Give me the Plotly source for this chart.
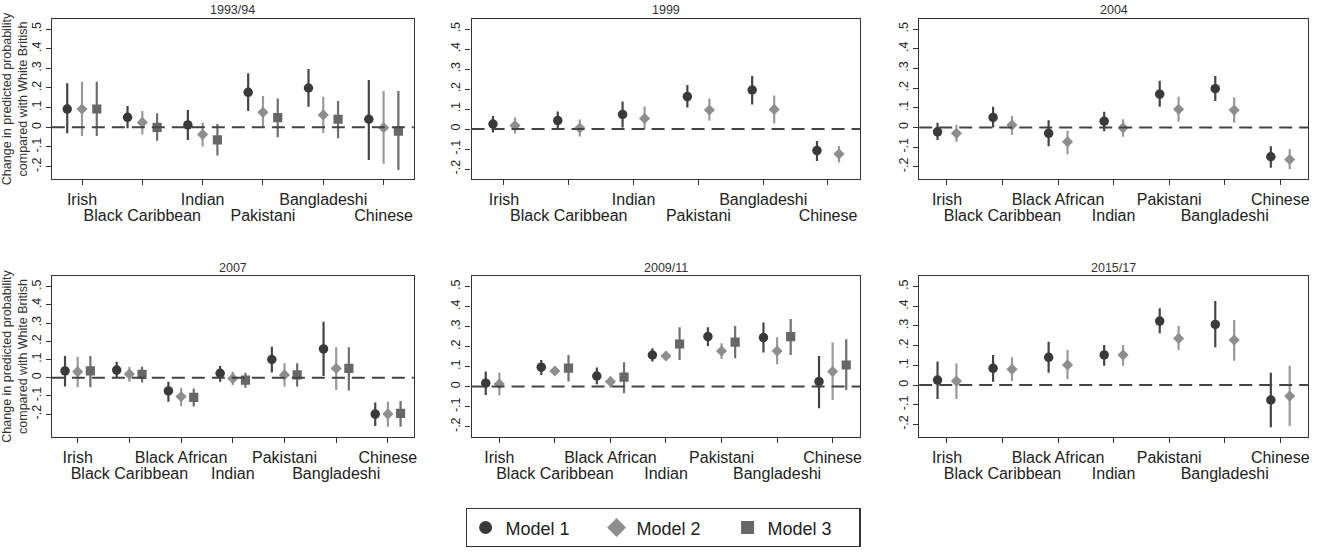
import plotly.graph_objects as go

# ---------------- data ----------------
CATS6 = ["Irish", "Black Caribbean", "Indian", "Pakistani", "Bangladeshi", "Chinese"]
CATS7 = ["Irish", "Black Caribbean", "Black African", "Indian", "Pakistani", "Bangladeshi", "Chinese"]
MODELS = ["Model 1", "Model 2", "Model 3"]
TITLES = ["1993/94", "1999", "2004", "2007", "2009/11", "2015/17"]

# 1993/94
p1_m1_est = [0.093, 0.051, 0.012, 0.178, 0.200, 0.041]
p1_m1_lo = [-0.030, -0.005, -0.064, 0.083, 0.105, -0.166]
p1_m1_hi = [0.224, 0.108, 0.088, 0.275, 0.297, 0.241]
p1_m2_est = [0.093, 0.025, -0.036, 0.076, 0.063, -0.002]
p1_m2_lo = [-0.044, -0.036, -0.098, 0.000, -0.030, -0.186]
p1_m2_hi = [0.232, 0.083, 0.025, 0.159, 0.156, 0.185]
p1_m3_est = [0.093, 0.000, -0.064, 0.049, 0.041, -0.019]
p1_m3_lo = [-0.044, -0.068, -0.144, -0.051, -0.056, -0.217]
p1_m3_hi = [0.232, 0.071, 0.017, 0.147, 0.134, 0.185]

# 1999
p2_m1_est = [0.025, 0.042, 0.073, 0.162, 0.195, -0.108]
p2_m1_lo = [-0.018, 0.003, 0.008, 0.107, 0.123, -0.160]
p2_m1_hi = [0.065, 0.087, 0.137, 0.220, 0.265, -0.060]
p2_m2_est = [0.017, 0.005, 0.053, 0.095, 0.098, -0.125]
p2_m2_lo = [-0.022, -0.038, 0.000, 0.042, 0.028, -0.167]
p2_m2_hi = [0.058, 0.048, 0.112, 0.153, 0.168, -0.085]

# 2004
p3_m1_est = [-0.022, 0.051, -0.030, 0.032, 0.169, 0.197, -0.149]
p3_m1_lo = [-0.064, 0.000, -0.095, -0.019, 0.105, 0.134, -0.205]
p3_m1_hi = [0.024, 0.105, 0.037, 0.080, 0.237, 0.261, -0.095]
p3_m2_est = [-0.030, 0.012, -0.073, -0.002, 0.092, 0.088, -0.163]
p3_m2_lo = [-0.073, -0.039, -0.136, -0.047, 0.029, 0.024, -0.212]
p3_m2_hi = [0.012, 0.058, -0.017, 0.042, 0.156, 0.153, -0.110]

# 2007
p4_m1_est = [0.037, 0.042, -0.073, 0.024, 0.100, 0.158, -0.200]
p4_m1_lo = [-0.049, 0.000, -0.132, -0.022, 0.029, 0.009, -0.266]
p4_m1_hi = [0.119, 0.088, -0.022, 0.064, 0.170, 0.308, -0.137]
p4_m2_est = [0.033, 0.020, -0.104, -0.004, 0.015, 0.051, -0.200]
p4_m2_lo = [-0.053, -0.022, -0.156, -0.040, -0.049, -0.068, -0.269]
p4_m2_hi = [0.115, 0.060, -0.055, 0.033, 0.079, 0.167, -0.132]
p4_m3_est = [0.037, 0.018, -0.108, -0.013, 0.015, 0.051, -0.196]
p4_m3_lo = [-0.053, -0.027, -0.159, -0.055, -0.049, -0.071, -0.269]
p4_m3_hi = [0.119, 0.060, -0.059, 0.027, 0.079, 0.167, -0.128]

# 2009/11
p5_m1_est = [0.017, 0.097, 0.053, 0.158, 0.250, 0.245, 0.025]
p5_m1_lo = [-0.042, 0.058, 0.012, 0.125, 0.203, 0.170, -0.108]
p5_m1_hi = [0.075, 0.133, 0.095, 0.192, 0.297, 0.320, 0.153]
p5_m2_est = [0.013, 0.078, 0.025, 0.153, 0.178, 0.178, 0.075]
p5_m2_lo = [-0.045, 0.060, -0.005, 0.130, 0.138, 0.112, -0.067]
p5_m2_hi = [0.070, 0.095, 0.050, 0.175, 0.217, 0.247, 0.220]
p5_m3_est = [None, 0.092, 0.047, 0.213, 0.222, 0.250, 0.108]
p5_m3_lo = [None, 0.025, -0.033, 0.133, 0.142, 0.158, -0.017]
p5_m3_hi = [None, 0.158, 0.122, 0.297, 0.303, 0.338, 0.237]

# 2015/17
p6_m1_est = [0.025, 0.085, 0.141, 0.153, 0.325, 0.308, -0.076]
p6_m1_lo = [-0.071, 0.017, 0.063, 0.098, 0.263, 0.192, -0.215]
p6_m1_hi = [0.119, 0.153, 0.220, 0.203, 0.390, 0.427, 0.063]
p6_m2_est = [0.020, 0.080, 0.102, 0.153, 0.237, 0.229, -0.056]
p6_m2_lo = [-0.071, 0.020, 0.029, 0.098, 0.178, 0.124, -0.208]
p6_m2_hi = [0.110, 0.141, 0.178, 0.203, 0.300, 0.330, 0.098]

YTICKVALS = [-0.2, -0.1, 0, 0.1, 0.2, 0.3, 0.4, 0.5]
YTICKTEXT = ["-.2", "-.1", "0", ".1", ".2", ".3", ".4", ".5"]
YTITLE = "Change in predicted probability<br>compared with White British"

panels = [
    (CATS6, [(p1_m1_est, p1_m1_lo, p1_m1_hi), (p1_m2_est, p1_m2_lo, p1_m2_hi), (p1_m3_est, p1_m3_lo, p1_m3_hi)]),
    (CATS6, [(p2_m1_est, p2_m1_lo, p2_m1_hi), (p2_m2_est, p2_m2_lo, p2_m2_hi)]),
    (CATS7, [(p3_m1_est, p3_m1_lo, p3_m1_hi), (p3_m2_est, p3_m2_lo, p3_m2_hi)]),
    (CATS7, [(p4_m1_est, p4_m1_lo, p4_m1_hi), (p4_m2_est, p4_m2_lo, p4_m2_hi), (p4_m3_est, p4_m3_lo, p4_m3_hi)]),
    (CATS7, [(p5_m1_est, p5_m1_lo, p5_m1_hi), (p5_m2_est, p5_m2_lo, p5_m2_hi), (p5_m3_est, p5_m3_lo, p5_m3_hi)]),
    (CATS7, [(p6_m1_est, p6_m1_lo, p6_m1_hi), (p6_m2_est, p6_m2_lo, p6_m2_hi)]),
]

# ---------------- style / layout ----------------
W, H = 1324, 552
FONT = "Liberation Sans, Arial, Helvetica, sans-serif"
DARK = "#333333"
MARKER_COLORS = ["#3a3a3a", "#8e8e8e", "#676767"]
LINE_COLORS = ["#454545", "#9a9a9a", "#6f6f6f"]
SYMBOLS = ["circle", "diamond", "square"]
SIZES = [9.5, 8.6, 9.2]
LEG_SIZES = [13, 14.5, 13]
OFFSETS = {2: [-0.17, 0.17], 3: [-0.245, 0.0, 0.245]}
XPX = [(52, 415), (473, 863), (922, 1312)]
YPX = [(19, 179), (276, 437)]
YRANGES = [(-0.263, 0.551), (-0.25, 0.55), (-0.262, 0.551),
           (-0.326, 0.559), (-0.252, 0.553), (-0.264, 0.554)]
TITLE_Y = [10, 268]

fig = go.Figure()
annotations = []
shapes = []
layout = {}

for k, (cats, models) in enumerate(panels):
    idx = k + 1
    row, col = divmod(k, 3)
    xs = "" if idx == 1 else str(idx)
    offs = OFFSETS[len(models)]
    for m, (est, lo, hi) in enumerate(models):
        xv, yv, up, dn = [], [], [], []
        for i, (e, l, h) in enumerate(zip(est, lo, hi)):
            if e is None:
                continue
            xv.append(i + 1 + offs[m])
            yv.append(e)
            up.append(h - e)
            dn.append(e - l)
        fig.add_trace(go.Scatter(
            x=xv, y=yv, mode="markers", xaxis="x" + xs, yaxis="y" + xs,
            name=MODELS[m], legendgroup=MODELS[m], showlegend=False,
            marker=dict(symbol=SYMBOLS[m], size=SIZES[m], color=MARKER_COLORS[m]),
            error_y=dict(type="data", symmetric=False, array=up, arrayminus=dn,
                         width=0, thickness=2.2, color=LINE_COLORS[m]),
            hoverinfo="skip",
        ))
    n = len(cats)
    x0, x1 = XPX[col]
    y0, y1 = YPX[row]
    dom_x = [x0 / W, x1 / W]
    dom_y = [1 - y1 / H, 1 - y0 / H]
    tv = list(range(1, n + 1))
    layout["xaxis" + xs] = dict(
        domain=dom_x, anchor="y" + xs, range=[0.5, n + 0.5],
        tickvals=tv, ticktext=[c if i % 2 == 0 else "" for i, c in enumerate(cats)],
        ticks="outside", ticklen=5, tickwidth=1.3, tickcolor=DARK,
        showline=True, mirror=True, linecolor=DARK, linewidth=1.3,
        showgrid=False, zeroline=False,
        tickfont=dict(size=16, color="#222222", family=FONT),
        ticklabelstandoff=1,
    )
    # second row of labels (even categories) on an overlaid axis
    ox = str(idx + 6)
    layout["xaxis" + ox] = dict(
        overlaying="x" + xs, anchor="y" + xs, side="bottom", range=[0.5, n + 0.5],
        tickvals=[i + 1 for i in range(1, n, 2)], ticktext=[cats[i] for i in range(1, n, 2)],
        ticks="outside", ticklen=5, tickcolor="rgba(0,0,0,0)",
        showline=False, showgrid=False, zeroline=False,
        tickfont=dict(size=16, color="#222222", family=FONT),
        ticklabelstandoff=17,
    )
    fig.add_trace(go.Scatter(x=[None], y=[None], xaxis="x" + ox, yaxis="y" + xs,
                             showlegend=False, hoverinfo="skip"))
    yax = dict(
        domain=dom_y, anchor="x" + xs, range=list(YRANGES[k]),
        tickvals=YTICKVALS, ticktext=YTICKTEXT, tickangle=-90,
        ticks="outside", ticklen=5, tickwidth=1.3, tickcolor=DARK,
        showline=True, mirror=True, linecolor=DARK, linewidth=1.3,
        showgrid=False, zeroline=False,
        tickfont=dict(size=12.5, color="#222222", family=FONT),
    )
    if col == 0:
        yax["title"] = dict(text=YTITLE, font=dict(size=12.5, color="#333333", family=FONT), standoff=2)
    layout["yaxis" + xs] = yax
    shapes.append(dict(type="line", xref="x" + xs + " domain", yref="y" + xs,
                       x0=0, x1=1, y0=0, y1=0,
                       line=dict(color="#444444", width=2, dash="13px,7px")))
    annotations.append(dict(text=TITLES[k], xref="paper", yref="paper",
                            x=(x0 + x1) / 2 / W, y=1 - TITLE_Y[row] / H,
                            xanchor="center", yanchor="middle", showarrow=False,
                            font=dict(size=12.5, color="#333333", family=FONT)))

# legend-only entries
for m in range(3):
    fig.add_trace(go.Scatter(
        x=[None], y=[None], mode="markers", name=MODELS[m], legendgroup=MODELS[m],
        marker=dict(symbol=SYMBOLS[m], size=LEG_SIZES[m], color=MARKER_COLORS[m]),
        showlegend=True,
    ))

fig.update_layout(
    width=W, height=H,
    margin=dict(l=0, r=0, t=0, b=0),
    paper_bgcolor="white", plot_bgcolor="white",
    font=dict(family=FONT, color="#222222"),
    annotations=annotations, shapes=shapes,
    legend=dict(orientation="h", x=467 / W, xanchor="left", y=1 - 508 / H, yanchor="top",
                bordercolor=DARK, borderwidth=1.3, bgcolor="white",
                font=dict(size=18, color="#222222", family=FONT),
                entrywidth=86, entrywidthmode="pixels", itemclick=False),
    **layout,
)

fig.write_html("out.html")
